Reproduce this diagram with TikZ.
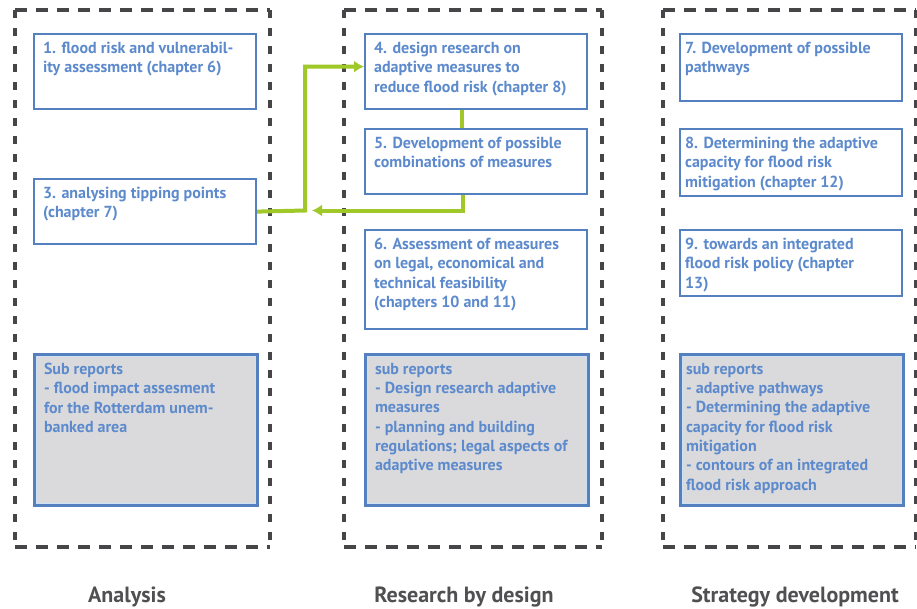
\documentclass[tikz,border=0pt]{standalone}
\usepackage{fontspec}
\setmainfont{PT Sans}
\usetikzlibrary{arrows.meta}

\definecolor{boxblue}{RGB}{84,128,192}
\definecolor{txtblue}{RGB}{92,138,204}
\definecolor{subgray}{RGB}{218,218,220}
\definecolor{sublight}{RGB}{205,225,244}
\definecolor{framegray}{RGB}{70,70,72}
\definecolor{flowgreen}{RGB}{160,200,40}
\definecolor{labelgray}{RGB}{80,80,82}

\newcommand\boxfont{\bfseries\fontsize{16}{19.3}\selectfont}
% top-aligned text block: [width]{height}{lines}
\newcommand\ftext[3][204pt]{\parbox[t][#2][t]{#1}{\raggedright #3}}

\tikzset{
  flowbox/.style={draw=boxblue, line width=2.2pt, fill=white, anchor=north west,
    inner xsep=9pt, inner ysep=8pt, text=txtblue, font=\boxfont},
  tightbox/.style={inner xsep=5pt},
  subbox/.style={flowbox, fill=subgray, line width=4pt},
  hframe/.style={draw=framegray, line width=3.2pt, dash pattern=on 12pt off 9pt},
  vframe/.style={draw=framegray, line width=3.2pt, dash pattern=on 8pt off 10pt},
  flow/.style={draw=flowgreen, line width=4pt},
  flowarrow/.style={flow, -{Latex[length=10pt,width=12pt]}},
  collabel/.style={text=labelgray, font=\bfseries\fontsize{22}{24}\selectfont},
}

\begin{document}
\begin{tikzpicture}[x=1pt,y=-1pt]
\useasboundingbox[fill=white] (0,0) rectangle (917,608);

% dashed column frames
\foreach \l/\r in {15/270, 344/602, 663/916}{
  \draw[hframe] (\l,10) -- (\r,10);
  \draw[hframe] (\l,547) -- (\r,547);
  \draw[vframe] (\l,10) -- (\l,547);
  \draw[vframe] (\r,10) -- (\r,547);
}

% Analysis
\node[flowbox] (b1) at (33,33) {\ftext{59pt}{1. flood risk and vulnerabil-\\ity assessment (chapter 6)}};
\node[flowbox] (b3) at (33,178) {\ftext{49pt}{3. analysing tipping points\\(chapter 7)}};
\node[subbox] (s1) at (33,353) {\ftext{134pt}{Sub reports\\- flood impact assesment\\for the Rotterdam unem-\\banked area}};

% Research by design
\node[flowbox] (b4) at (364,33) {\ftext{59pt}{4. design research on\\adaptive measures to\\reduce flood risk (chapter 8)}};
\node[flowbox] (b5) at (364,128) {\ftext{49pt}{5. Development of possible\\combinations of measures}};
\node[flowbox] (b6) at (364,229) {\ftext{83pt}{6. Assessment of measures\\on legal, economical and\\technical feasibility\\(chapters 10 and 11)}};
\node[subbox] (s2) at (364,353) {\ftext{134pt}{sub reports\\- Design research adaptive\\measures\\- planning and building\\regulations; legal aspects of\\adaptive measures}};

% Strategy development
\node[flowbox,tightbox] (b7) at (679,33) {\ftext[212pt]{51pt}{7. Development of possible\\pathways}};
\node[flowbox,tightbox] (b8) at (679,128) {\ftext[212pt]{51pt}{8. Determining the adaptive\\capacity for flood risk\\mitigation (chapter 12)}};
\node[flowbox,tightbox] (b9) at (679,229) {\ftext[212pt]{50pt}{9. towards an integrated\\flood risk policy (chapter\\13)}};
\node[subbox,tightbox] (s3) at (679,353) {\ftext[212pt]{134pt}{sub reports\\- adaptive pathways\\- Determining the adaptive\\capacity for flood risk\\mitigation\\- contours of an integrated\\flood risk approach}};

% light inner edge of the sub report boxes (shifts are in canvas units, y up)
\foreach \s in {s1,s2,s3}{
  \draw[sublight, line width=1pt] ([shift={(3.6pt,-3.6pt)}]\s.north west) rectangle ([shift={(-3.6pt,3.6pt)}]\s.south east);
}

% green flow connectors
\coordinate (join) at (305,210.5);
\draw[flowarrow] (b3.east) -- (join) |- ([yshift=5pt]b4.west);
\draw[flow] ([xshift=-14pt]b4.south) -- ([xshift=-14pt]b5.north);
\draw[flowarrow] ([xshift=-13pt]b5.south) |- ([xshift=7pt]join);

% column titles
\node[collabel] (t1) at (127,597) {Analysis};
\node[collabel] (t2) at (464,597) {Research by design};
\node[collabel] (t3) at (795,597) {Strategy development};
\end{tikzpicture}
\end{document}
